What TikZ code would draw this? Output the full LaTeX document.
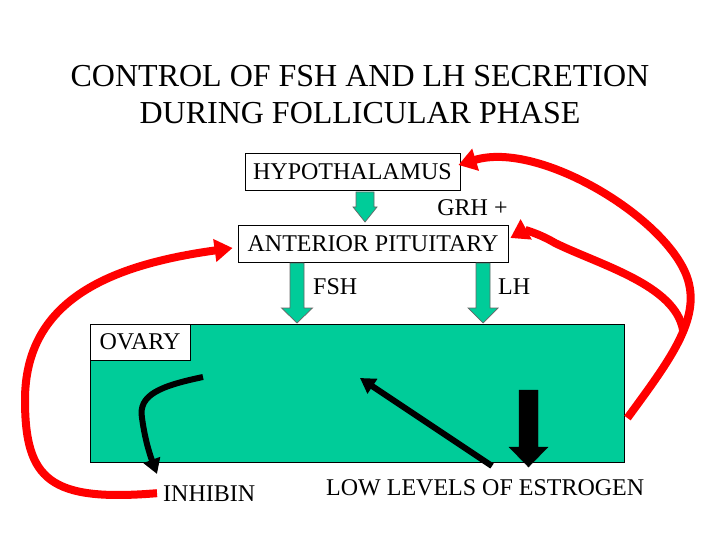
\documentclass[tikz,border=0pt]{standalone}
\usepackage{fontspec}
\setmainfont{Liberation Serif}
\usetikzlibrary{arrows.meta,calc}
\definecolor{ogreen}{RGB}{0,204,153}
\newcommand{\bdarrow}[7]{\draw[#1] ({#2-#6},#3) -- ({#2+#6},#3) -- ({#2+#6},#4) -- ({#2+#7},#4) -- (#2,#5) -- ({#2-#7},#4) -- ({#2-#6},#4) -- cycle;}
\begin{document}
\begin{tikzpicture}[x=1pt,y=-1pt,
 lbl/.style={font=\fontsize{24}{28}\selectfont, inner sep=0pt},
 ttl/.style={font=\fontsize{32}{36}\selectfont, inner sep=0pt},
 box/.style={draw=black, line width=0.8pt, fill=white, inner sep=0pt, font=\fontsize{24}{28}\selectfont},
 garrow/.style={fill=ogreen, draw=black!60, line width=0.7pt},
 redarr/.style={draw=red, line width=8pt, -{Triangle[length=18pt,width=22pt]}},
 blkarr/.style={draw=black, line width=6pt, -{Triangle[length=15pt,width=17pt]}}]
\useasboundingbox (0,0) rectangle (720,540);
\fill[white] (0,0) rectangle (720,540);

\node[ttl, anchor=base] (t1) at (360,87) {CONTROL OF FSH AND LH SECRETION};
\node[ttl, anchor=base] (t2) at (360,124) {DURING FOLLICULAR PHASE};

\node[box, minimum width=215, minimum height=37] (hyp) at (352.5,171.5) {HYPOTHALAMUS};
\node[box, minimum width=270, minimum height=37] (pit) at (373,243.5) {ANTERIOR PITUITARY};
\node[draw=black, line width=0.8pt, fill=ogreen, minimum width=534, minimum height=138, inner sep=0pt] (ov) at (357,393) {};
\node[box, minimum width=100, minimum height=36] (ovl) at (140,342) {OVARY};

\node[lbl, anchor=base] (grh) at (472.5,215) {GRH +};
\node[lbl, anchor=base west] (fsh) at (313,294) {FSH};
\node[lbl, anchor=base west] (lh) at (498,294) {LH};
\node[lbl, anchor=base west] (inh) at (163,501) {INHIBIN};
\node[lbl, anchor=base west] (est) at (326,495) {LOW LEVELS OF ESTROGEN};

\bdarrow{garrow}{365}{192}{207}{222}{9}{12}
\bdarrow{garrow}{297}{263}{308}{323}{7}{15.5}
\bdarrow{garrow}{483}{263}{308}{323}{7}{15}
\bdarrow{fill=black}{528.5}{390}{447}{467}{9.5}{19.5}

\coordinate (inhs) at (203,377);
\coordinate (inht) at (157,474);
\draw[blkarr] (inhs) .. controls (160,386) and (138,395) .. (142,418) .. controls (145,440) and (150,455) .. (inht);
\coordinate (ests) at (492,466);
\coordinate (estt) at (360,378);
\draw[blkarr] (ests) -- (estt);

\draw[redarr] ($(inh.west)+(-6,0)$) .. controls (50,502) and (25,480) .. (25,400) .. controls (25,300) and (110,265) .. ($(pit.west)+(-5,4.5)$);
\draw[redarr] ($(ov.east)+(3,25)$) .. controls (670,360) and (700,320) .. (688,280) .. controls (670,220) and (540,140) .. ($(hyp.east)+(-2,-6.5)$);
\coordinate (inner) at (683,330);
\draw[redarr] (inner) .. controls (675,285) and (600,265) .. (555,243) .. controls (540,234) and (525,230) .. ($(pit.east)+(2,-5.5)$);
\end{tikzpicture}
\end{document}
